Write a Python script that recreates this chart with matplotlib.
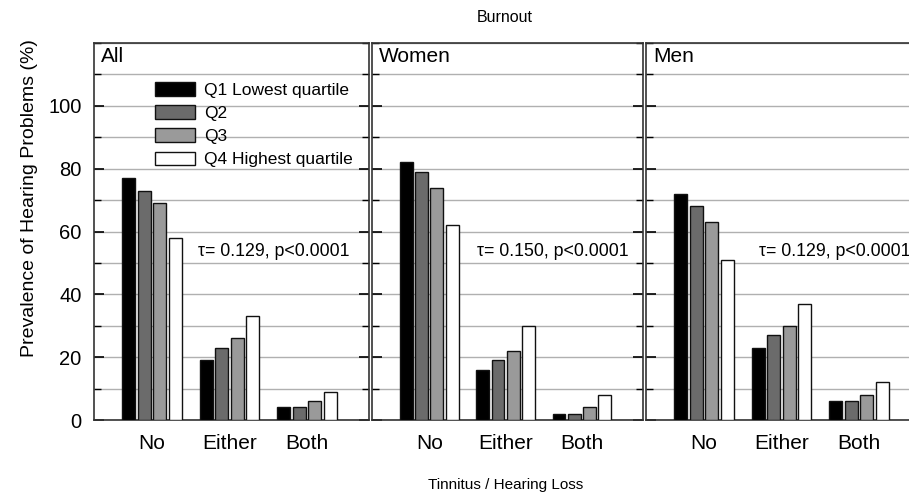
import numpy as np
import matplotlib
matplotlib.use("Agg")
import matplotlib.pyplot as plt
from matplotlib.ticker import MultipleLocator

plt.rcParams['font.family'] = ['Liberation Sans', 'DejaVu Sans']

groups = ['No', 'Either', 'Both']
quartiles = ['Q1 Lowest quartile', 'Q2', 'Q3', 'Q4 Highest quartile']
panels = ['All', 'Women', 'Men']
stats = ['τ= 0.129, p<0.0001', 'τ= 0.150, p<0.0001', 'τ= 0.129, p<0.0001']

# rows: quartiles, cols: No / Either / Both
all_vals = [[77, 19, 4], [73, 23, 4], [69, 26, 6], [58, 33, 9]]
women_vals = [[82, 16, 2], [79, 19, 2], [74, 22, 4], [62, 30, 8]]
men_vals = [[72, 23, 6], [68, 27, 6], [63, 30, 8], [51, 37, 12]]

colors = ['#000000', '#6b6b6b', '#9a9a9a', '#ffffff']

W, H = 909, 499
fig = plt.figure(figsize=(W / 100, H / 100), dpi=100)

# panel pixel extents (left, right); the last one runs off the figure edge
extents = [(94, 369), (372, 643), (646, 921)]
stat_x = [0.59, 0.62, 0.71]
top, bottom = 43, 420

x = np.arange(len(groups))
bw = 0.2
for k, (name, vals, st) in enumerate(zip(panels, [all_vals, women_vals, men_vals], stats)):
    l, r = extents[k]
    ax = fig.add_axes([l / W, (H - bottom) / H, (r - l) / W, (bottom - top) / H])
    ax.patch.set_alpha(0)
    for q in range(4):
        ax.bar(x + (q - 1.5) * bw, vals[q], width=bw * 0.84, color=colors[q],
               edgecolor='#111111', linewidth=1.0, label=quartiles[q], zorder=3)
    ax.set_xlim(-0.75, 2.8)
    ax.set_ylim(0, 120)
    ax.yaxis.set_major_locator(MultipleLocator(20))
    ax.yaxis.set_minor_locator(MultipleLocator(10))
    ax.grid(True, which='both', axis='y', color='#b0b0b0', linewidth=1.0, zorder=0)
    ax.tick_params(axis='y', which='major', direction='in', left=True, right=True,
                   length=7, width=1.2, labelsize=14.5, pad=9)
    ax.tick_params(axis='y', which='minor', direction='in', left=True, right=True,
                   length=5, width=1.0)
    ax.set_yticks([0, 20, 40, 60, 80, 100])
    ax.set_xticks(x)
    ax.set_xticklabels(groups, fontsize=15)
    ax.tick_params(axis='x', length=0, pad=10)
    if k > 0:
        ax.tick_params(axis='y', labelleft=False)
    for s in ax.spines.values():
        s.set_color('#333333')
        s.set_linewidth(1.2)
    ax.text(0.025, 0.99, name, transform=ax.transAxes, fontsize=15,
            ha='left', va='top')
    ax.text(stat_x[k], 53.5, st, fontsize=12.8, ha='left', va='center', zorder=4)
    if k == 0:
        ax.legend(loc='upper left', bbox_to_anchor=(0.222, 0.897), frameon=False,
                  fontsize=12.5, handlelength=2.3, handleheight=0.85,
                  labelspacing=0.42, handletextpad=0.5, borderaxespad=0,
                  borderpad=0)
        ax.set_ylabel('Prevalence of Hearing Problems (%)', fontsize=14, labelpad=10)
        ax.yaxis.set_label_coords(-0.202, 0.59)

fig.text(505 / W, 1 - 18 / H, 'Burnout', fontsize=11.5, ha='center', va='center')
fig.text(506 / W, 1 - 485 / H, 'Tinnitus / Hearing Loss', fontsize=11,
         ha='center', va='center')

fig.savefig('out.png', dpi=100)
